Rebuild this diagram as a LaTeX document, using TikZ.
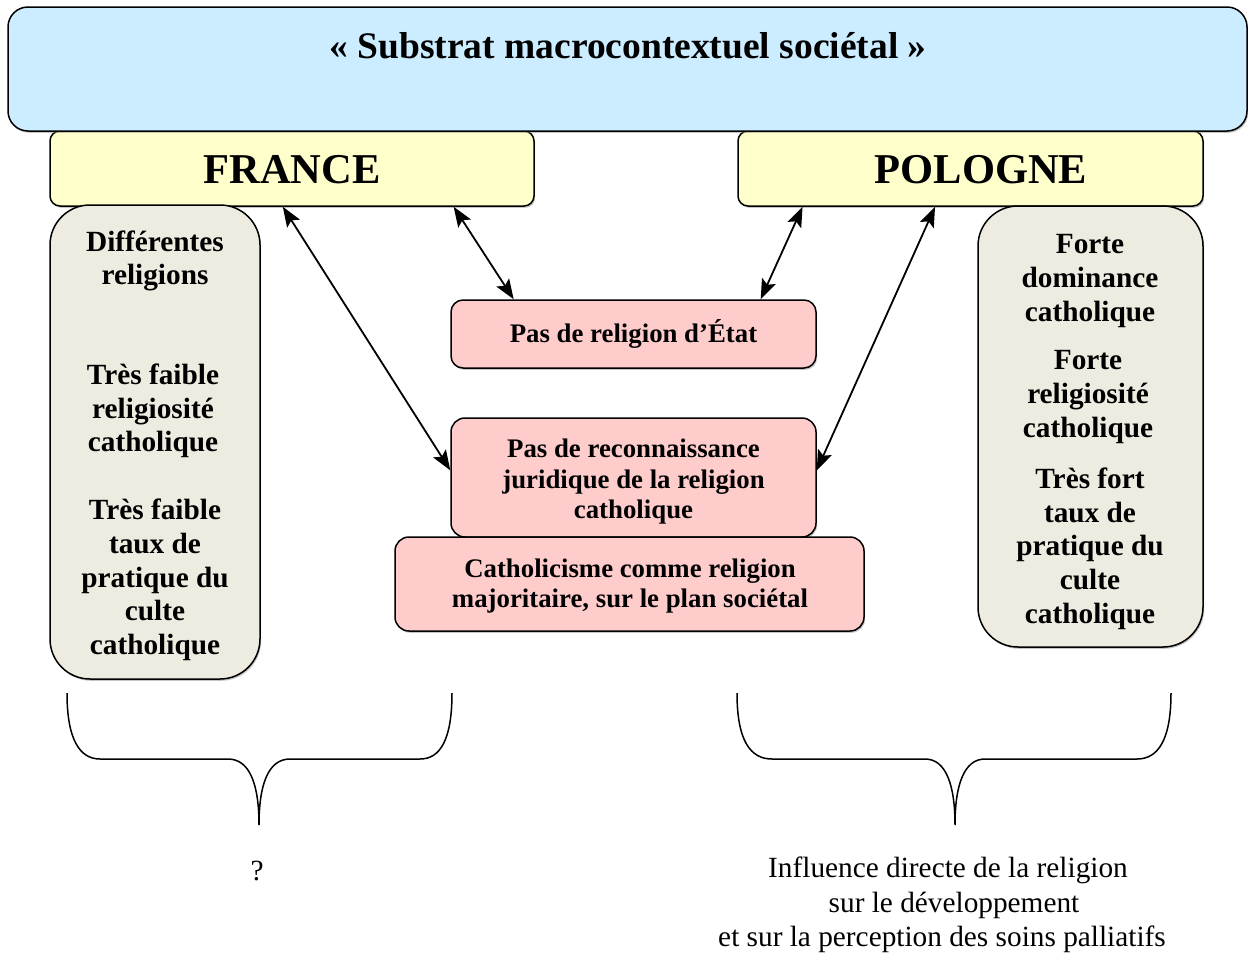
\documentclass[tikz,border=0pt]{standalone}
\usepackage{fontspec}
\setmainfont{Liberation Serif}
\usetikzlibrary{calc,arrows.meta,shadows}
\definecolor{topblue}{HTML}{CCECFF}
\definecolor{cyellow}{HTML}{FFFFCC}
\definecolor{cbeige}{HTML}{EEECE1}
\definecolor{cpink}{HTML}{FFCCCC}
\tikzset{
  box/.style={draw=black, line width=1.5pt, rectangle, inner sep=0pt,
    drop shadow={shadow xshift=1.2pt, shadow yshift=-1.8pt, fill=black!45}},
  sidetxt/.style={font=\fontsize{29.3}{33.7}\selectfont\bfseries, align=center, inner sep=0pt},
  pinktxt/.style={font=\fontsize{26.8}{30.5}\selectfont\bfseries, align=center, inner sep=0pt},
  dbl/.style={line width=1.8pt, {Stealth[length=20pt,width=15pt,inset=4pt]}-{Stealth[length=20pt,width=15pt,inset=4pt]}},
  brace/.style={line width=1.5pt},
  plain/.style={font=\fontsize{29.3}{34.5}\selectfont, align=center, inner sep=0pt}
}
\begin{document}
\begin{tikzpicture}[x=1pt,y=-1pt]
\useasboundingbox (0,0) rectangle (1248,954);
% country boxes
\node[box, fill=cyellow, rounded corners=10pt, minimum width=484pt, minimum height=75pt] (fr) at (292,168.5) {};
\node[box, fill=cyellow, rounded corners=10pt, minimum width=465pt, minimum height=75pt] (pl) at (970.5,168.5) {};
\node[font=\fontsize{42.5}{48}\selectfont\bfseries, inner sep=0pt] (frt) at (292,170) {FRANCE};
\node[font=\fontsize{42.5}{48}\selectfont\bfseries, inner sep=0pt] (plt) at (981,170) {POLOGNE};
% top box
\node[box, fill=topblue, rounded corners=20pt, minimum width=1239pt, minimum height=124pt] (top) at (627.5,69) {};
\node[font=\fontsize{37.5}{42}\selectfont\bfseries, inner sep=0pt] (title) at (628,46) {« Substrat macrocontextuel sociétal »};
% side boxes
\node[box, fill=cbeige, rounded corners=40pt, minimum width=210pt, minimum height=474pt] (frbox) at (155,442) {};
\node[box, fill=cbeige, rounded corners=40pt, minimum width=225pt, minimum height=441pt] (plbox) at (1090.5,426.5) {};
\node[sidetxt] (fr1) at (155,261) {Différentes\\religions};
\node[sidetxt] (fr2) at (153,411) {Très faible\\religiosité\\catholique};
\node[sidetxt] (fr3) at (155,580) {Très faible\\taux de\\pratique du\\culte\\catholique};
\node[sidetxt] (pl1) at (1090,281) {Forte\\dominance\\catholique};
\node[sidetxt] (pl2) at (1088,397) {Forte\\religiosité\\catholique};
\node[sidetxt] (pl3) at (1090,548.5) {Très fort\\taux de\\pratique du\\culte\\catholique};
% pink boxes
\node[box, fill=cpink, rounded corners=12pt, minimum width=365pt, minimum height=68pt, pinktxt] (etat) at (633.5,334) {\raisebox{2pt}{Pas de religion d’État}};
\node[box, fill=cpink, rounded corners=14pt, minimum width=365pt, minimum height=119pt] (rec) at (633.5,477.5) {};
\node[pinktxt] (rect) at (633.5,482) {Pas de reconnaissance\\juridique de la religion\\catholique};
\node[box, fill=cpink, rounded corners=14pt, minimum width=469pt, minimum height=94pt] (cath) at (629.5,584) {};
\node[pinktxt] (catht) at (630,586) {Catholicisme comme religion\\majoritaire, sur le plan sociétal};
% arrows
\draw[dbl] ($(fr.south west)!0.481!(fr.south east)$) -- ($(rec.north west)!0.44!(rec.south west)$);
\draw[dbl] ($(fr.south west)!0.833!(fr.south east)$) -- ($(etat.north west)!0.173!(etat.north east)$);
\draw[dbl] ($(pl.south west)!0.14!(pl.south east)$) -- ($(etat.north west)!0.847!(etat.north east)$);
\draw[dbl] ($(pl.south west)!0.424!(pl.south east)$) -- ($(rec.north east)!0.44!(rec.south east)$);
% braces
\draw[brace] (67,693) .. controls (67,740) and (80,759) .. (100,759) -- (228,759)
  .. controls (250,759) and (259,785) .. (259,825)
  .. controls (259,785) and (268,759) .. (290,759) -- (420,759)
  .. controls (440,759) and (452,740) .. (452,693);
\draw[brace] (737,693) .. controls (737,740) and (750,759) .. (772,759) -- (925,759)
  .. controls (946,759) and (955,785) .. (955,825)
  .. controls (955,785) and (964,759) .. (985,759) -- (1137,759)
  .. controls (1158,759) and (1171,740) .. (1171,693);
% bottom texts
\node[plain] (q) at (257,871) {?};
\node[plain] (infl) at (942,905) {\hspace*{12pt}Influence directe de la religion\\\hspace*{24pt}sur le développement\\et sur la perception des soins palliatifs};
\end{tikzpicture}
\end{document}
